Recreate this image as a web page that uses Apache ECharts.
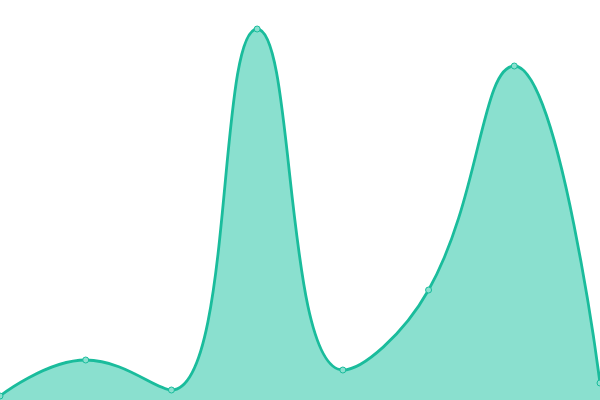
<html>
<head>
<meta charset="utf-8">
<script src="https://cdn.jsdelivr.net/npm/echarts@6/dist/echarts.min.js"></script>
</head>
<body style="margin:0;padding:0;overflow:hidden;">
<div id="main" style="width:600px;height:400px;"></div>
<script type="text/javascript">
    var categories = ['1', '2', '3', '4', '5', '6', '7', '8'];
    var values = [4, 40, 10, 371, 30, 110, 334, 17];

    var myChart = echarts.init(document.getElementById('main'));
    var option = {
        animation: false,
        grid: { left: 0, right: 0, top: 0, bottom: 0 },
        xAxis: {
            type: 'category',
            boundaryGap: false,
            data: categories,
            show: false
        },
        yAxis: {
            type: 'value',
            min: 0,
            max: 400,
            show: false
        },
        series: [
            {
                type: 'line',
                smooth: 0.45,
                data: values,
                symbol: 'circle',
                symbolSize: 6,
                itemStyle: {
                    color: '#8ae0cf',
                    borderColor: '#1abc9c',
                    borderWidth: 1
                },
                lineStyle: { color: '#1abc9c', width: 2.8 },
                areaStyle: { color: '#8ae0cf', opacity: 1 }
            }
        ]
    };
    myChart.setOption(option);
</script>
</body>
</html>
